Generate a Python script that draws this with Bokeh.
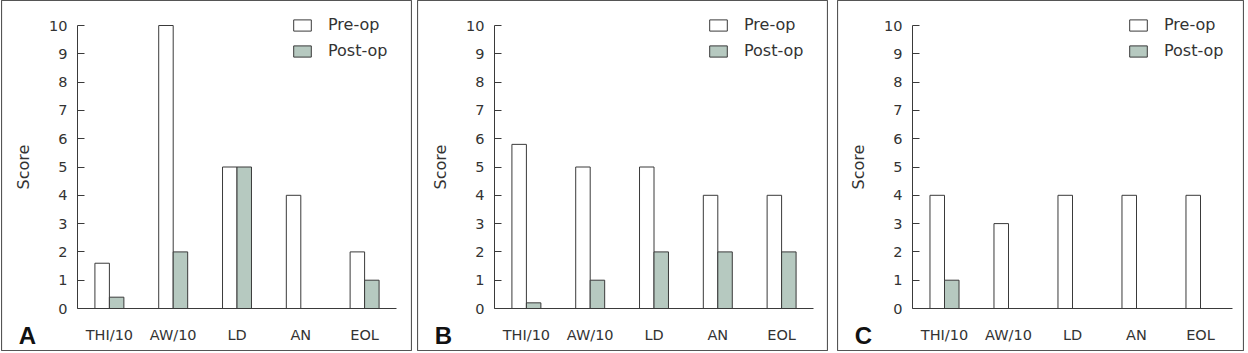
from bokeh.plotting import figure
from bokeh.layouts import row
from bokeh.models import Range1d, Legend, LegendItem, Label, FixedTicker
from bokeh.transform import dodge
from bokeh.embed import file_html
from bokeh.resources import INLINE

categories = ["THI/10", "AW/10", "LD", "AN", "EOL"]
pre_a = [1.6, 10, 5, 4, 2]
post_a = [0.4, 2, 5, 0, 1]
pre_b = [5.8, 5, 5, 4, 4]
post_b = [0.2, 1, 2, 2, 2]
pre_c = [4, 3, 4, 4, 4]
post_c = [1, 0, 0, 0, 0]
panel_labels = ["A", "B", "C"]
y_ticks = list(range(0, 11))

FONT = "DejaVu Sans"
TXT = "#333333"
EDGE = "#3a3a3a"
POST_FILL = "#b6c9c0"
BW = 0.227
H = 351


def make_panel(pre, post, letter, width, axis_px, unit_px, mleft):
    # x: category index positions; y: score
    y_unit = 28.3
    x0 = -0.5 - axis_px / unit_px
    x1 = x0 + width / unit_px
    y1 = 10 + 25 / y_unit
    y0 = -(H - 308) / y_unit
    p = figure(x_range=Range1d(x0, x1), y_range=Range1d(y0, y1),
               width=width, height=H, output_backend="svg", toolbar_location=None,
               min_border=0, min_border_left=0, min_border_right=0,
               min_border_top=0, min_border_bottom=0)
    src = dict(xi=list(range(len(categories))), pre=pre, post=post)
    r1 = p.vbar(x=dodge("xi", -BW / 2), top="pre", width=BW, source=src,
                fill_color="white", line_color=EDGE, line_width=1)
    r2 = p.vbar(x=dodge("xi", BW / 2), top="post", width=BW, source=src,
                fill_color=POST_FILL, line_color=EDGE, line_width=1)
    p.xgrid.grid_line_color = None
    p.ygrid.grid_line_color = None
    p.outline_line_color = "#555555"
    p.outline_line_width = 1.2
    p.background_fill_color = "white"
    p.border_fill_color = "white"

    ya = p.yaxis[0]
    ya.fixed_location = -0.5
    ya.ticker = FixedTicker(ticks=y_ticks)
    ya.bounds = (0, 10)
    ya.axis_line_color = EDGE
    ya.major_tick_line_color = EDGE
    ya.major_tick_in = 7
    ya.major_tick_out = 0
    ya.minor_tick_line_color = None
    ya.major_label_text_font = FONT
    ya.major_label_text_font_size = "14.5px"
    ya.major_label_text_color = TXT
    ya.major_label_standoff = 10
    ya.axis_label = "Score"
    ya.axis_label_text_font = FONT
    ya.axis_label_text_font_size = "16px"
    ya.axis_label_text_font_style = "normal"
    ya.axis_label_text_color = TXT
    ya.axis_label_standoff = 13

    xa = p.xaxis[0]
    xa.fixed_location = 0
    xa.ticker = FixedTicker(ticks=list(range(len(categories))))
    xa.major_label_overrides = {i: c for i, c in enumerate(categories)}
    xa.bounds = (-0.5, len(categories) - 0.5)
    xa.axis_line_color = EDGE
    xa.major_tick_line_color = None
    xa.minor_tick_line_color = None
    xa.major_label_text_font = FONT
    xa.major_label_text_font_size = "14.5px"
    xa.major_label_text_color = TXT
    xa.major_label_standoff = 12

    legend = Legend(items=[LegendItem(label="Pre-op", renderers=[r1]),
                           LegendItem(label="Post-op", renderers=[r2])],
                    location=(290, 291), orientation="vertical",
                    glyph_width=22, glyph_height=14, label_height=14,
                    label_standoff=15, spacing=7, padding=0, margin=0,
                    border_line_color=None, background_fill_alpha=0,
                    label_text_font=FONT, label_text_font_size="16px",
                    label_text_color=TXT)
    p.add_layout(legend)

    p.add_layout(Label(x=26, y=16, x_units="screen", y_units="screen", text=letter,
                       text_font="Liberation Sans", text_font_style="bold",
                       text_font_size="24px", text_color="#111111",
                       text_align="center", text_baseline="alphabetic"))
    p.margin = (0, 0, 0, mleft)
    return p


pa = make_panel(pre_a, post_a, panel_labels[0], 411, 76, 63.8, 1)
pb = make_panel(pre_b, post_b, panel_labels[1], 411, 77, 63.8, 5)
pc = make_panel(pre_c, post_c, panel_labels[2], 407, 75, 64.0, 9)

layout = row(pa, pb, pc)
open("out.html", "w").write(file_html(layout, INLINE))
